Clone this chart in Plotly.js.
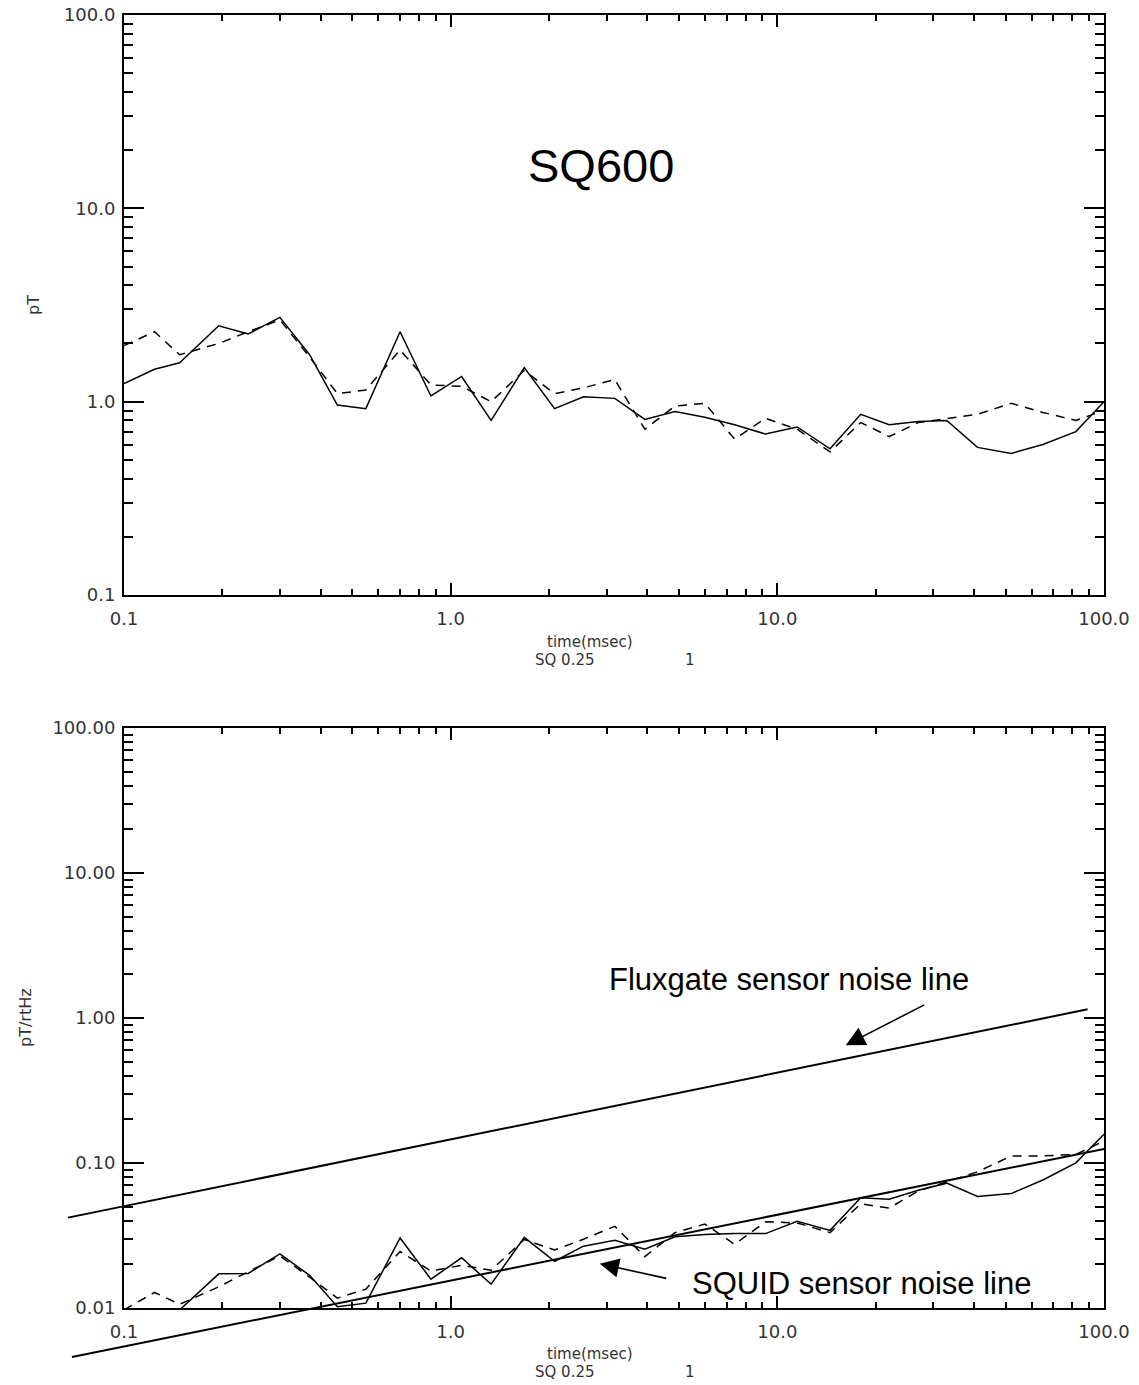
<!DOCTYPE html>
<html><head><meta charset="utf-8">
<script src="https://cdn.plot.ly/plotly-3.0.1.min.js"></script>
<style>html,body{margin:0;padding:0;background:#fff;} #chart{width:1139px;height:1385px;}</style>
</head><body><div id="chart"></div>
<script>
// ---- data ----
const timeMs = [0.1, 0.124, 0.148, 0.195, 0.24, 0.3, 0.37, 0.45, 0.55, 0.7, 0.87, 1.08, 1.33, 1.68, 2.08, 2.55, 3.18, 3.93, 4.86, 6.0, 7.4, 9.2, 11.5, 14.5, 18, 22, 27, 33, 41, 52, 65, 82, 100];
const topSolid = [1.24, 1.47, 1.59, 2.47, 2.24, 2.73, 1.75, 0.96, 0.92, 2.3, 1.07, 1.35, 0.8, 1.5, 0.92, 1.06, 1.04, 0.81, 0.89, 0.83, 0.76, 0.68, 0.74, 0.57, 0.86, 0.76, 0.79, 0.8, 0.58, 0.54, 0.6, 0.7, 1.0];
const topDashed = [1.95, 2.3, 1.75, 2.0, 2.3, 2.65, 1.7, 1.1, 1.15, 1.85, 1.22, 1.2, 1.0, 1.45, 1.1, 1.18, 1.3, 0.72, 0.95, 0.98, 0.64, 0.82, 0.72, 0.55, 0.78, 0.66, 0.78, 0.82, 0.86, 0.98, 0.88, 0.8, 0.9];
const botSolid = [0.0062, 0.0082, 0.0097, 0.0172, 0.0173, 0.0236, 0.0168, 0.0102, 0.0108, 0.0304, 0.0158, 0.0222, 0.0146, 0.0307, 0.021, 0.0267, 0.0293, 0.0254, 0.031, 0.0321, 0.0327, 0.0326, 0.0396, 0.0343, 0.0576, 0.0563, 0.0649, 0.0726, 0.0587, 0.0615, 0.0764, 0.1002, 0.158];
const botDashed = [0.0097, 0.0128, 0.0106, 0.014, 0.0178, 0.0229, 0.0163, 0.0117, 0.0135, 0.0245, 0.018, 0.0197, 0.0182, 0.0297, 0.0251, 0.0298, 0.0366, 0.0226, 0.0331, 0.0379, 0.0275, 0.0393, 0.0386, 0.0331, 0.0523, 0.0489, 0.064, 0.0744, 0.087, 0.1117, 0.112, 0.1145, 0.142];
const fluxgateX = [0.0674, 89.1];
const fluxgateY = [0.042, 1.148];
const squidX = [0.0693, 100];
const squidY = [0.0046, 0.125];
const fluxArrowTip = [16.2, 0.65];
const squidArrowTip = [2.86, 0.0202];
const xTickVals = [0.1, 1, 10, 100];
const xTickText = ['0.1', '1.0', '10.0', '100.0'];
const topYTickVals = [0.1, 1, 10, 100];
const topYTickText = ['0.1', '1.0', '10.0', '100.0'];
const botYTickVals = [0.01, 0.1, 1, 10, 100];
const botYTickText = ['0.01', '0.10', '1.00', '10.00', '100.00'];
const titleTop = 'SQ600';
const xTitle = 'time(msec)';
const subLabelA = 'SQ 0.25';
const subLabelB = '1';
const yTitleTop = 'pT';
const yTitleBot = 'pT/rtHz';
const fluxLabel = 'Fluxgate sensor noise line';
const squidLabel = 'SQUID sensor noise line';

// ---- layout geometry (pixels) ----
const W = 1139, H = 1385;
const xL = 124, xR = 1104;
const topT = 15, topB = 595, botT = 728, botB = 1308;
const xDom = [xL / W, xR / W];
const topDom = [1 - topB / H, 1 - topT / H];
const botDom = [1 - botB / H, 1 - botT / H];

function minorVals(lo, hi) {
  const v = [];
  for (let e = lo; e < hi; e++) for (let d = 2; d <= 9; d++) v.push(d * Math.pow(10, e));
  return v;
}
const tickFont = {family: 'DejaVu Sans', size: 18, color: '#333'};
function axis(extra, majorLen, minorLen, minorTicks) {
  return Object.assign({
    type: 'log', showline: true, linecolor: '#000', linewidth: 2, mirror: 'ticks',
    ticks: 'inside', ticklen: majorLen, tickwidth: 2, tickcolor: '#000',
    showgrid: false, zeroline: false, tickmode: 'array', tickfont: tickFont,
    minor: {ticks: 'inside', ticklen: minorLen, tickwidth: 2, tickcolor: '#000',
            tickmode: 'array', tickvals: minorTicks, showgrid: false},
    fixedrange: true
  }, extra);
}

// overlay axes spanning the whole page with the same scale as the bottom plot
const xSpan = 3 / (xDom[1] - xDom[0]);
const x3Range = [-1 - xDom[0] * xSpan, 2 + (1 - xDom[1]) * xSpan];
const ySpan = 4 / (botDom[1] - botDom[0]);
const y3Range = [-2 - botDom[0] * ySpan, 2 + (1 - botDom[1]) * ySpan];

const lineS = {color: '#000', width: 1.5};
const lineD = {color: '#000', width: 1.5, dash: '9px,7px'};
const traces = [
  {x: timeMs, y: topSolid, xaxis: 'x', yaxis: 'y', mode: 'lines', line: lineS},
  {x: timeMs, y: topDashed, xaxis: 'x', yaxis: 'y', mode: 'lines', line: lineD},
  {x: timeMs, y: botSolid, xaxis: 'x2', yaxis: 'y2', mode: 'lines', line: lineS},
  {x: timeMs, y: botDashed, xaxis: 'x2', yaxis: 'y2', mode: 'lines', line: lineD},
  {x: fluxgateX, y: fluxgateY, xaxis: 'x3', yaxis: 'y3', mode: 'lines', line: {color: '#000', width: 2}},
  {x: squidX, y: squidY, xaxis: 'x3', yaxis: 'y3', mode: 'lines', line: {color: '#000', width: 2}}
];

function px(x) { return x / W; }
function py(y) { return 1 - y / H; }
const labFont = {family: 'DejaVu Sans', size: 16, color: '#333'};
const subFont = {family: 'DejaVu Sans', size: 15, color: '#333'};
const bigFont = {family: 'Liberation Sans, Arial, sans-serif', color: '#000'};
const annotations = [
  {text: titleTop, xref: 'paper', yref: 'paper', x: px(601), y: py(165), xanchor: 'center', yanchor: 'middle', showarrow: false, font: Object.assign({size: 47}, bigFont)},
  {text: yTitleTop, xref: 'paper', yref: 'paper', x: px(33), y: py(305), textangle: -90, xanchor: 'center', yanchor: 'middle', showarrow: false, font: labFont},
  {text: yTitleBot, xref: 'paper', yref: 'paper', x: px(25), y: py(1018), textangle: -90, xanchor: 'center', yanchor: 'middle', showarrow: false, font: labFont},
  {text: fluxLabel, xref: 'paper', yref: 'paper', x: px(607), y: py(980), xanchor: 'left', yanchor: 'middle', showarrow: false, font: Object.assign({size: 31}, bigFont)},
  {text: squidLabel, xref: 'paper', yref: 'paper', x: px(690), y: py(1283), xanchor: 'left', yanchor: 'middle', showarrow: false, font: Object.assign({size: 31}, bigFont)},
  {text: '', xref: 'x2', yref: 'y2', x: Math.log10(fluxArrowTip[0]), y: Math.log10(fluxArrowTip[1]), ax: 80, ay: -41, showarrow: true, arrowhead: 2, arrowsize: 2.4, arrowwidth: 1.6, arrowcolor: '#000'},
  {text: '', xref: 'x2', yref: 'y2', x: Math.log10(squidArrowTip[0]), y: Math.log10(squidArrowTip[1]), ax: 68, ay: 15, showarrow: true, arrowhead: 2, arrowsize: 2.4, arrowwidth: 1.6, arrowcolor: '#000'}
];
[[0, 0], [1, 712]].forEach(function (p) {
  const dy = p[1];
  annotations.push({text: xTitle, xref: 'paper', yref: 'paper', x: px(590), y: py(642 + dy), xanchor: 'center', yanchor: 'middle', showarrow: false, font: subFont});
  annotations.push({text: subLabelA, xref: 'paper', yref: 'paper', x: px(533), y: py(660 + dy), xanchor: 'left', yanchor: 'middle', showarrow: false, font: subFont});
  annotations.push({text: subLabelB, xref: 'paper', yref: 'paper', x: px(690), y: py(660 + dy), xanchor: 'center', yanchor: 'middle', showarrow: false, font: subFont});
});

const layout = {
  width: W, height: H, margin: {l: 0, r: 0, t: 0, b: 0},
  paper_bgcolor: '#fff', plot_bgcolor: 'rgba(0,0,0,0)', showlegend: false,
  xaxis: axis({domain: xDom, anchor: 'y', range: [-1, 2], tickvals: xTickVals, ticktext: xTickText, ticklabelstandoff: 6}, 12, 6, minorVals(-1, 2)),
  yaxis: axis({domain: topDom, anchor: 'x', range: [-1, 2], tickvals: topYTickVals, ticktext: topYTickText, ticklabelstandoff: 3}, 20, 9, minorVals(-1, 2)),
  xaxis2: axis({domain: xDom, anchor: 'y2', range: [-1, 2], tickvals: xTickVals, ticktext: xTickText, ticklabelstandoff: 6}, 12, 6, minorVals(-1, 2)),
  yaxis2: axis({domain: botDom, anchor: 'x2', range: [-2, 2], tickvals: botYTickVals, ticktext: botYTickText, ticklabelstandoff: 3}, 20, 9, minorVals(-2, 2)),
  xaxis3: {type: 'log', domain: [0, 1], anchor: 'y3', range: x3Range, visible: false, fixedrange: true},
  yaxis3: {type: 'log', domain: [0, 1], anchor: 'x3', range: y3Range, visible: false, fixedrange: true},
  annotations: annotations
};
Plotly.newPlot('chart', traces, layout, {staticPlot: true, displayModeBar: false});
</script></body></html>
